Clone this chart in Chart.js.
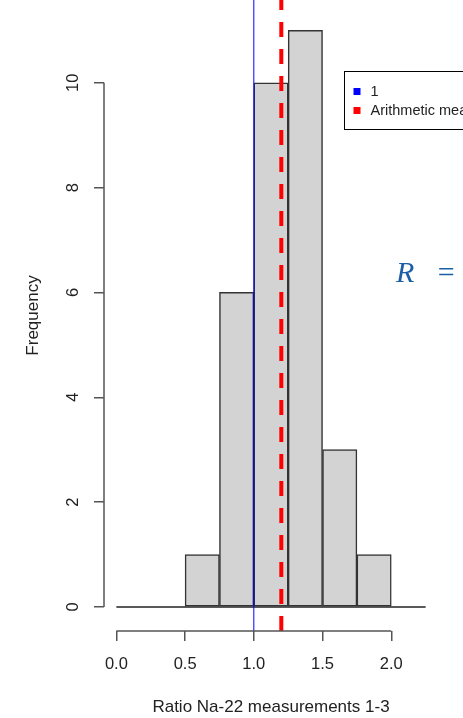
<!DOCTYPE html>
<html>
<head>
<meta charset="utf-8">
<title>Ratio Na-22 measurements 1-3</title>
<script src="https://cdn.jsdelivr.net/npm/chart.js@4.4.1/dist/chart.umd.min.js"></script>
<style>
  html, body { margin: 0; padding: 0; background: #fff; overflow: hidden; }
  #wrap { position: relative; width: 463px; height: 718px; overflow: hidden; }
  #eq {
    position: absolute; left: 396px; top: 257px;
    font: 30px "Liberation Serif", "DejaVu Serif", serif; line-height: 1;
    color: #1b5fa5; white-space: nowrap; word-spacing: 16px;
  }
</style>
</head>
<body>
<div id="wrap">
  <canvas id="histChart" width="463" height="718"></canvas>
  <div id="eq"><i>R</i> =</div>
</div>
<script>
// Histogram of the Na-22 ratios
const binBreaks = [0, 0.25, 0.5, 0.75, 1.0, 1.25, 1.5, 1.75, 2.0, 2.25];
const binCounts = [0, 0, 1, 6, 10, 11, 3, 1, 0];
const xTicks = [0, 0.5, 1.0, 1.5, 2.0];
const yTicks = [0, 2, 4, 6, 8, 10];
const refRatio = 1;
const meanRatio = 1.2;
const legendLabels = ['1', 'Arithmetic mean'];

// plot range, data range padded by 4% like base R
const xMin = -0.09, xMax = 2.34;
const yMin = -0.46, yMax = 11.58;

const textColor = '#222';
const axisColor = '#555';
const fontFamily = '"Liberation Sans", Arial, sans-serif';

const bins = binCounts.map((c, i) => ({ x: (binBreaks[i] + binBreaks[i + 1]) / 2, y: c }));

// R style axes: the axis line only runs between the first and last tick
const rAxes = {
    id: 'rAxes',
    afterDraw(chart) {
        const { ctx, chartArea, scales: { x, y } } = chart;
        ctx.save();
        ctx.strokeStyle = axisColor;
        ctx.lineWidth = 1.5;
        ctx.beginPath();
        ctx.moveTo(x.getPixelForValue(xTicks[0]), chartArea.bottom);
        ctx.lineTo(x.getPixelForValue(xTicks[xTicks.length - 1]), chartArea.bottom);
        ctx.moveTo(chartArea.left, y.getPixelForValue(yTicks[0]));
        ctx.lineTo(chartArea.left, y.getPixelForValue(yTicks[yTicks.length - 1]));
        ctx.stroke();
        ctx.restore();
    }
};

// boxed legend in the top right corner
const boxLegend = {
    id: 'boxLegend',
    afterDraw(chart) {
        const { ctx } = chart;
        const left = 344.5, top = 71.5, rowH = 19;
        ctx.save();
        ctx.fillStyle = '#fff';
        ctx.strokeStyle = '#000';
        ctx.lineWidth = 1;
        ctx.fillRect(left, top, 200, 58);
        ctx.strokeRect(left, top, 200, 58);
        ctx.font = '14.5px ' + fontFamily;
        ctx.textBaseline = 'middle';
        legendLabels.forEach((text, i) => {
            const ds = chart.data.datasets.find(d => d.label === text);
            const cy = top + 20 + i * rowH;
            ctx.fillStyle = ds.borderColor;
            ctx.fillRect(left + 9, cy - 3.5, 7, 7);
            ctx.fillStyle = textColor;
            ctx.fillText(text, left + 26, cy);
        });
        ctx.restore();
    }
};

function noPad(axis) {
    axis.paddingTop = 0;
    axis.paddingBottom = 0;
    axis.paddingLeft = 0;
    axis.paddingRight = 0;
}

new Chart(document.getElementById('histChart'), {
    type: 'bar',
    data: {
        datasets: [
            {
                type: 'line',
                label: legendLabels[1],
                data: [{ x: meanRatio, y: yMin }, { x: meanRatio, y: yMax }],
                borderColor: '#ff0000',
                borderWidth: 4,
                borderDash: [15, 12],
                borderCapStyle: 'butt',
                pointRadius: 0,
                order: 0
            },
            {
                type: 'line',
                label: legendLabels[0],
                data: [{ x: refRatio, y: yMin }, { x: refRatio, y: yMax }],
                borderColor: '#0000ff',
                borderWidth: 1,
                pointRadius: 0,
                order: 1
            },
            {
                type: 'line',
                label: 'baseline',
                data: [{ x: binBreaks[0], y: 0 }, { x: binBreaks[binBreaks.length - 1], y: 0 }],
                borderColor: '#222',
                borderWidth: 1.5,
                pointRadius: 0,
                order: 2
            },
            {
                label: 'Frequency',
                data: bins,
                backgroundColor: '#d3d3d3',
                borderColor: '#333',
                borderWidth: 1.5,
                borderSkipped: false,
                barPercentage: 1,
                categoryPercentage: 1,
                order: 3
            }
        ]
    },
    options: {
        responsive: false,
        animation: false,
        layout: { autoPadding: false, padding: { left: 0, right: 25, top: 0, bottom: 0 } },
        plugins: { legend: { display: false }, tooltip: { enabled: false } },
        scales: {
            x: {
                type: 'linear',
                min: xMin,
                max: xMax,
                offset: false,
                afterBuildTicks: axis => { axis.ticks = xTicks.map(v => ({ value: v })); },
                afterFit: axis => { axis.height = 87; noPad(axis); },
                ticks: {
                    callback: v => v.toFixed(1),
                    color: textColor,
                    font: { family: fontFamily, size: 16.5 },
                    padding: 14,
                    maxRotation: 0
                },
                grid: { offset: false, drawOnChartArea: false, tickLength: 10, color: axisColor, lineWidth: 1.5 },
                border: { display: false },
                title: {
                    display: true,
                    text: 'Ratio Na-22 measurements 1-3',
                    color: textColor,
                    font: { family: fontFamily, size: 17 },
                    padding: { top: 0, bottom: 0 }
                }
            },
            y: {
                type: 'linear',
                min: yMin,
                max: yMax,
                afterBuildTicks: axis => { axis.ticks = yTicks.map(v => ({ value: v })); },
                afterFit: axis => { axis.width = 104; noPad(axis); },
                ticks: {
                    color: textColor,
                    font: { family: fontFamily, size: 16.5 },
                    minRotation: 90,
                    maxRotation: 90,
                    crossAlign: 'center',
                    padding: 11
                },
                grid: { drawOnChartArea: false, tickLength: 10, color: axisColor, lineWidth: 1.5 },
                border: { display: false },
                title: {
                    display: true,
                    text: 'Frequency',
                    color: textColor,
                    font: { family: fontFamily, size: 17 },
                    padding: { top: 23, bottom: 0 }
                }
            }
        }
    },
    plugins: [rAxes, boxLegend]
});
</script>
</body>
</html>
